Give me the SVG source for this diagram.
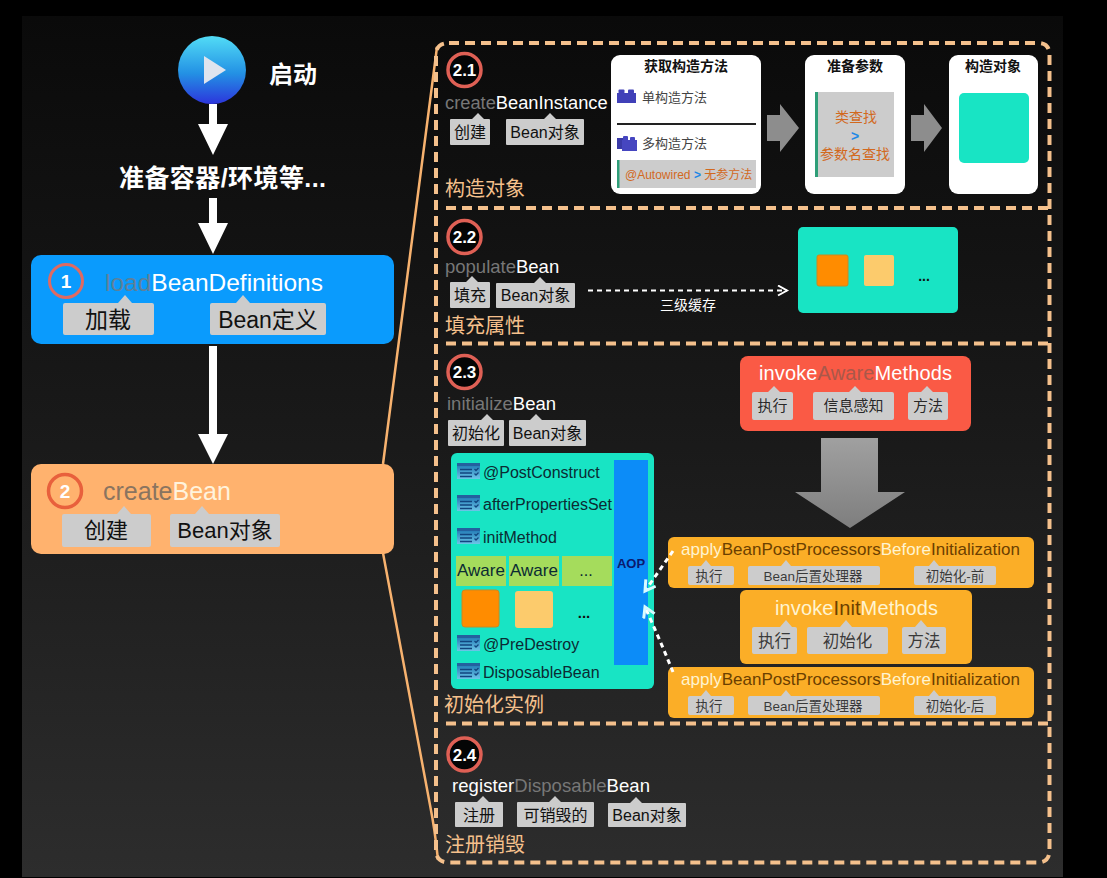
<svg xmlns="http://www.w3.org/2000/svg" width="1107" height="878" viewBox="0 0 1107 878">
<defs>
<linearGradient id="bg" x1="0" y1="0" x2="0" y2="1"><stop offset="0" stop-color="#0a0a0a"/><stop offset="0.5" stop-color="#1a1a1a"/><stop offset="1" stop-color="#2d2d2d"/></linearGradient>
<linearGradient id="play" x1="0" y1="0" x2="0" y2="1"><stop offset="0" stop-color="#52dcf6"/><stop offset="0.55" stop-color="#2391e4"/><stop offset="1" stop-color="#2c35dc"/></linearGradient>
<linearGradient id="grey" x1="0" y1="0" x2="0" y2="1"><stop offset="0" stop-color="#a0a0a0"/><stop offset="1" stop-color="#7e7e7e"/></linearGradient>
<linearGradient id="lst" x1="0" y1="0" x2="0" y2="1"><stop offset="0" stop-color="#2a6fb8"/><stop offset="1" stop-color="#7cc0ee"/></linearGradient>
<marker id="open" markerWidth="14" markerHeight="14" refX="10" refY="6" orient="auto" markerUnits="userSpaceOnUse"><path d="M1 1L10 6L1 11" fill="none" stroke="#fff" stroke-width="2"/></marker>
<marker id="open2" markerWidth="16" markerHeight="16" refX="11" refY="7" orient="auto" markerUnits="userSpaceOnUse"><path d="M1 1L11 7L1 13" fill="none" stroke="#d8fbff" stroke-width="3"/></marker>
<g id="blocks1"><rect x="0" y="4" width="19" height="10" fill="#4040b8"/><rect x="1.500" y="0.500" width="6" height="4" rx="1" fill="#4040b8"/><rect x="11" y="0.500" width="6" height="4" rx="1" fill="#4040b8"/></g>
<g id="blocks2"><rect x="0" y="3" width="11" height="11" fill="#3a3aa8"/><rect x="5" y="5" width="15" height="11" fill="#4646c0"/><rect x="6" y="1" width="5" height="5" rx="1" fill="#4646c0"/><rect x="13" y="2" width="5" height="4" rx="1" fill="#4646c0"/></g>
<g id="lsticon"><rect x="0" y="0" width="23" height="3" fill="#24609f"/><rect x="0" y="3" width="23" height="13" fill="url(#lst)" opacity="0.85"/><path d="M3 6.500H15M3 10H15M3 13.500H15" stroke="#12457f" stroke-width="1.500"/><path d="M17.500 6l1.500 1.500 2.500-2.500M17.500 10.500l1.500 1.500 2.500-2.500" fill="none" stroke="#12457f" stroke-width="1.300"/></g>
</defs>
<style>
text{font-family:"Liberation Sans","Noto Sans CJK SC",Arial,sans-serif}
.w{fill:#fff}
.arrow{fill:#fff}
.frame{fill:none;stroke:#f4c08c;stroke-width:4;stroke-dasharray:10 6}
.sec{font-size:20px;fill:#f5c08c}
.ring{stroke:#df6055;stroke-width:3.500;fill:#050505}
.num{font-size:17px;font-weight:bold;fill:#fff;text-anchor:middle}
.tag{fill:#cccccc}
.tt{fill:#111;text-anchor:middle}
.card{fill:#fff}
.ct{font-size:14px;font-weight:bold;fill:#111;text-anchor:middle}
.mid{text-anchor:middle}
.dim{fill:#777}
.item{font-size:16px;fill:#0b2b33}
.or{fill:#d2691e}
.bl{fill:#1e88e5}
.orange{fill:#fbae27}
.cream{fill:#fff4d0}
.brown{fill:#6b3f00}
.teal{fill:#18e4c4}
</style>
<rect width="1107" height="878" fill="#000"/>
<rect x="22" y="16" width="1041" height="861" fill="url(#bg)"/>

<g id="connectors">
<path d="M437 47L383 464M383 553L430 805Q435 830 438 860" fill="none" stroke="#f7b26f" stroke-width="2.500"/>
<path class="frame" d="M449 43H1038Q1049.500 43 1049.500 55V850Q1049.500 862.500 1038 862.500H449Q436 862.500 436 850V55Q436 43 449 43Z"/>
<path class="frame" d="M446 208H1049M446 343.500H1049M446 723.500H1049"/>
<path class="arrow" d="M209 104H217V124H228L213 155L198 124H209Z"/>
<path class="arrow" d="M209 198H217V223H228L213 254L198 223H209Z"/>
<path class="arrow" d="M209 346H217V434H228L213 464L198 434H209Z"/>
<path fill="#8d8d8d" d="M767 115H780V104L799 128L780 152V141H767Z"/>
<path fill="#8d8d8d" d="M911 115H924V104L942 128L924 152V141H911Z"/>
<path fill="url(#grey)" d="M821 438H878V492H905L850 528L795 492H821Z"/>
<path d="M588 290.500H787" fill="none" stroke="#fff" stroke-width="2" stroke-dasharray="5 4" marker-end="url(#open)"/>
<text x="688" y="310" font-size="14" class="w mid">三级缓存</text>
</g>

<g id="start"><circle cx="212" cy="70" r="34" fill="url(#play)"/><path d="M204 56L226 70L204 84Z" fill="#dfe4ee"/><text x="269" y="83" font-size="24" font-weight="bold" class="w">启动</text></g>
<g id="prepare"><text x="119" y="187" font-size="25" font-weight="bold" class="w" textLength="207">准备容器/环境等...</text></g>

<g id="load">
<rect x="31" y="255" width="363" height="89" rx="10" fill="#0a9bfd"/>
<circle cx="66" cy="281" r="16.500" fill="#0a9bfd" stroke="#df6a62" stroke-width="3"/>
<text x="66" y="288" font-size="19" class="w mid" font-weight="bold">1</text>
<text x="105" y="291" font-size="24.500" class="w"><tspan fill="#5f8098">load</tspan>BeanDefinitions</text>
<path class="tag" d="M65 303H118L125 295L132 303H152Q154 303 154 305V333Q154 335 152 335H65Q63 335 63 333V305Q63 303 65 303Z"/>
<text x="108" y="328" font-size="23" class="tt">加载</text>
<path class="tag" d="M212 303H236L243 295L250 303H324Q326 303 326 305V333Q326 335 324 335H212Q210 335 210 333V305Q210 303 212 303Z"/>
<text x="268" y="328" font-size="23" class="tt">Bean定义</text>
</g>

<g id="create">
<rect x="31" y="464" width="363" height="90" rx="10" fill="#ffb26e"/>
<circle cx="65" cy="491" r="16.500" fill="#ffb26e" stroke="#e8603c" stroke-width="3.500"/>
<text x="65" y="498" font-size="19" class="w mid" font-weight="bold">2</text>
<text x="103" y="500" font-size="25" fill="#fff3dc"><tspan fill="#8a7460">create</tspan>Bean</text>
<path class="tag" d="M64 514H117L124 506L131 514H149Q151 514 151 516V545Q151 547 149 547H64Q62 547 62 545V516Q62 514 64 514Z"/>
<text x="106" y="538" font-size="22" class="tt">创建</text>
<path class="tag" d="M172 514H195L202 506L209 514H278Q280 514 280 516V545Q280 547 278 547H172Q170 547 170 545V516Q170 514 172 514Z"/>
<text x="225" y="538" font-size="22" class="tt">Bean对象</text>
</g>

<g id="s21">
<circle class="ring" cx="464.500" cy="70" r="16.500"/><text class="num" x="464.500" y="76">2.1</text>
<text x="445" y="109" font-size="18.300" class="w"><tspan class="dim">create</tspan>BeanInstance</text>
<path class="tag" d="M451 119H472L478 113L484 119H489Q490 119 490 120V144Q490 145 489 145H451Q450 145 450 144V120Q450 119 451 119Z"/>
<text x="470" y="138" font-size="16" class="tt">创建</text>
<path class="tag" d="M507 119H544L550 113L556 119H583Q584 119 584 120V144Q584 145 583 145H507Q506 145 506 144V120Q506 119 507 119Z"/>
<text x="545" y="138" font-size="16" class="tt">Bean对象</text>
<text x="445" y="196" class="sec">构造对象</text>
</g>

<g id="card-method">
<rect class="card" x="611" y="55" width="150" height="139" rx="9"/>
<text class="ct" x="686" y="71">获取构造方法</text>
<use href="#blocks1" x="617" y="89"/>
<text x="642" y="102" font-size="13" fill="#444">单构造方法</text>
<rect x="617" y="123" width="139" height="2" fill="#222"/>
<use href="#blocks2" x="617" y="135"/>
<text x="642" y="148" font-size="13" fill="#444">多构造方法</text>
<rect x="617" y="160" width="139" height="28" fill="#ccc"/><rect x="617" y="160" width="2.500" height="28" fill="#2e9e78"/>
<text x="625" y="179" font-size="12" class="or">@Autowired <tspan class="bl" font-weight="bold">&gt;</tspan> 无参方法</text>
</g>
<g id="card-param">
<rect class="card" x="805" y="55" width="100" height="139" rx="9"/>
<text class="ct" x="855" y="71">准备参数</text>
<rect x="815" y="92" width="79" height="85" fill="#ccc"/><rect x="815" y="92" width="3" height="85" fill="#2e9e78"/>
<text x="856" y="122" font-size="14" class="or mid">类查找</text>
<text x="855" y="141" font-size="14" font-weight="bold" class="bl mid">&gt;</text>
<text x="855" y="159" font-size="14" class="or mid">参数名查找</text>
</g>
<g id="card-object">
<rect class="card" x="949" y="55" width="89" height="139" rx="9"/>
<text class="ct" x="993" y="71">构造对象</text>
<rect class="teal" x="959" y="93" width="70" height="70" rx="5"/>
</g>

<g id="s22">
<circle class="ring" cx="464.500" cy="237" r="16.500"/><text class="num" x="464.500" y="243">2.2</text>
<text x="445" y="273" font-size="18.500" class="w"><tspan class="dim">populate</tspan>Bean</text>
<path class="tag" d="M451 282H466L472 276L478 282H489Q490 282 490 283V307Q490 308 489 308H451Q450 308 450 307V283Q450 282 451 282Z"/>
<text x="470" y="301" font-size="16" class="tt">填充</text>
<path class="tag" d="M497 283H534L540 277L546 283H574Q575 283 575 284V307Q575 308 574 308H497Q496 308 496 307V284Q496 283 497 283Z"/>
<text x="535.500" y="301" font-size="16" class="tt">Bean对象</text>
<text x="445" y="333" class="sec">填充属性</text>
</g>
<g id="fields">
<rect class="teal" x="798" y="227" width="160" height="86" rx="5"/>
<rect x="817" y="255" width="31" height="31" rx="2" fill="#ff8c00" stroke="#c98a20"/>
<rect x="864" y="255" width="30" height="31" rx="2" fill="#fccb6c"/>
<text x="924" y="281" font-size="14" font-weight="bold" fill="#111" class="mid">...</text>
</g>

<g id="s23">
<circle class="ring" cx="464.500" cy="372" r="16.500"/><text class="num" x="464.500" y="378">2.3</text>
<text x="447" y="410" font-size="18.500" class="w"><tspan class="dim">initialize</tspan>Bean</text>
<path class="tag" d="M449 420H481L487 414L493 420H503Q504 420 504 421V445Q504 446 503 446H449Q448 446 448 445V421Q448 420 449 420Z"/>
<text x="476" y="439" font-size="16" class="tt">初始化</text>
<path class="tag" d="M510 420H530L536 414L542 420H585Q586 420 586 421V445Q586 446 585 446H510Q509 446 509 445V421Q509 420 510 420Z"/>
<text x="547.500" y="439" font-size="16" class="tt">Bean对象</text>
<text x="444" y="712" class="sec">初始化实例</text>
</g>

<g id="instance">
<rect class="teal" x="451" y="453" width="203" height="236" rx="6"/>
<use href="#lsticon" x="457" y="463"/><text class="item" x="483" y="478">@PostConstruct</text>
<use href="#lsticon" x="457" y="495"/><text class="item" x="483" y="510">afterPropertiesSet</text>
<use href="#lsticon" x="457" y="528"/><text class="item" x="483" y="543">initMethod</text>
<rect x="456" y="556" width="50" height="30" fill="#a5dc5c"/><text class="item mid" x="481" y="576" style="font-size:17px">Aware</text>
<rect x="509" y="556" width="50" height="30" fill="#a5dc5c"/><text class="item mid" x="534" y="576" style="font-size:17px">Aware</text>
<rect x="562" y="556" width="50" height="30" fill="#a5dc5c"/><text class="item mid" x="586" y="576">...</text>
<rect x="462" y="590" width="37" height="37" rx="3" fill="#ff8c00" stroke="#c98a20"/>
<rect x="515" y="591" width="38" height="37" rx="3" fill="#fccb6c"/>
<text x="584" y="618" font-size="15" font-weight="bold" fill="#111" class="mid">...</text>
<use href="#lsticon" x="457" y="635"/><text class="item" x="483" y="650">@PreDestroy</text>
<use href="#lsticon" x="457" y="663"/><text class="item" x="483" y="678">DisposableBean</text>
<rect x="614" y="460" width="34" height="205" fill="#0c8cf8"/>
<text x="631" y="568" font-size="13" font-weight="bold" fill="#0b1a6e" class="mid">AOP</text>
</g>

<g id="aware">
<rect x="740" y="356" width="231" height="75" rx="8" fill="#fa5a45"/>
<text x="759" y="380" font-size="20" class="w" textLength="193">invoke<tspan fill="#a9584a">Aware</tspan>Methods</text>
<path class="tag" d="M754 392H768L774 386L780 392H791Q793 392 793 394V418Q793 420 791 420H754Q752 420 752 418V394Q752 392 754 392Z"/>
<text x="772.500" y="411" font-size="15" class="tt" fill-opacity="0.9">执行</text>
<path class="tag" d="M815 392H849L855 386L861 392H892Q894 392 894 394V418Q894 420 892 420H815Q813 420 813 418V394Q813 392 815 392Z"/>
<text x="853.500" y="411" font-size="15" class="tt" fill-opacity="0.9">信息感知</text>
<path class="tag" d="M910 392H921L927 386L933 392H946Q948 392 948 394V418Q948 420 946 420H910Q908 420 908 418V394Q908 392 910 392Z"/>
<text x="928" y="411" font-size="15" class="tt" fill-opacity="0.9">方法</text>
</g>

<g id="before">
<rect class="orange" x="668" y="537" width="366" height="51" rx="6"/>
<text x="681" y="555" font-size="17" class="brown" textLength="339"><tspan class="cream">apply</tspan>BeanPostProcessors<tspan class="cream">Before</tspan>Initialization</text>
<path class="tag" d="M690 566H701L706 560L711 566H732Q734 566 734 568V583Q734 585 732 585H690Q688 585 688 583V568Q688 566 690 566Z"/>
<text x="709" y="581" font-size="13.500" class="tt" fill-opacity="0.8">执行</text>
<path class="tag" d="M750 566H781L786 560L791 566H878Q880 566 880 568V583Q880 585 878 585H750Q748 585 748 583V568Q748 566 750 566Z"/>
<text x="813" y="581" font-size="13.500" class="tt" fill-opacity="0.8">Bean后置处理器</text>
<path class="tag" d="M916 566H929L934 560L939 566H994Q996 566 996 568V583Q996 585 994 585H916Q914 585 914 583V568Q914 566 916 566Z"/>
<text x="955" y="581" font-size="13.500" class="tt" fill-opacity="0.8">初始化-前</text>
</g>

<g id="init">
<rect class="orange" x="740" y="590" width="232" height="74" rx="6"/>
<text x="775" y="615" font-size="20" class="cream" textLength="163">invoke<tspan class="brown">Init</tspan>Methods</text>
<path class="tag" d="M754 627H780L786 620L792 627H795Q797 627 797 629V652Q797 654 795 654H754Q752 654 752 652V629Q752 627 754 627Z"/>
<text x="774.500" y="647" font-size="16.500" class="tt" fill-opacity="0.8">执行</text>
<path class="tag" d="M809 627H840L846 620L852 627H886Q888 627 888 629V652Q888 654 886 654H809Q807 654 807 652V629Q807 627 809 627Z"/>
<text x="847.500" y="647" font-size="16.500" class="tt" fill-opacity="0.8">初始化</text>
<path class="tag" d="M904 627H915L921 620L927 627H944Q946 627 946 629V652Q946 654 944 654H904Q902 654 902 652V629Q902 627 904 627Z"/>
<text x="924" y="647" font-size="16.500" class="tt" fill-opacity="0.8">方法</text>
</g>

<g id="after">
<rect class="orange" x="668" y="667" width="366" height="51" rx="6"/>
<text x="681" y="685" font-size="17" class="brown" textLength="339"><tspan class="cream">apply</tspan>BeanPostProcessors<tspan class="cream">Before</tspan>Initialization</text>
<path class="tag" d="M690 696H701L706 690L711 696H732Q734 696 734 698V713Q734 715 732 715H690Q688 715 688 713V698Q688 696 690 696Z"/>
<text x="709" y="711" font-size="13.500" class="tt" fill-opacity="0.8">执行</text>
<path class="tag" d="M750 696H781L786 690L791 696H878Q880 696 880 698V713Q880 715 878 715H750Q748 715 748 713V698Q748 696 750 696Z"/>
<text x="813" y="711" font-size="13.500" class="tt" fill-opacity="0.8">Bean后置处理器</text>
<path class="tag" d="M916 696H929L934 690L939 696H994Q996 696 996 698V713Q996 715 994 715H916Q914 715 914 713V698Q914 696 916 696Z"/>
<text x="955" y="711" font-size="13.500" class="tt" fill-opacity="0.8">初始化-后</text>
</g>

<g id="aop-links">
<path d="M673 551L645 591" fill="none" stroke="#fff" stroke-width="3" stroke-dasharray="5 4" marker-end="url(#open2)"/>
<path d="M673 672Q660 640 645 607" fill="none" stroke="#fff" stroke-width="3" stroke-dasharray="5 4" marker-end="url(#open2)"/>
</g>

<g id="s24">
<circle class="ring" cx="464.500" cy="754.500" r="16.500"/><text class="num" x="464.500" y="760.500">2.4</text>
<text x="452" y="792" font-size="18.500" class="w" textLength="198"><tspan fill="#fff">register</tspan><tspan class="dim">Disposable</tspan>Bean</text>
<path class="tag" d="M456 802H477L483 796L489 802H502Q503 802 503 803V826Q503 827 502 827H456Q455 827 455 826V803Q455 802 456 802Z"/>
<text x="479" y="821" font-size="16" class="tt">注册</text>
<path class="tag" d="M518 802H549L555 796L561 802H593Q594 802 594 803V826Q594 827 593 827H518Q517 827 517 826V803Q517 802 518 802Z"/>
<text x="555.500" y="821" font-size="16" class="tt">可销毁的</text>
<path class="tag" d="M609 803H630L636 797L642 803H685Q686 803 686 804V826Q686 827 685 827H609Q608 827 608 826V804Q608 803 609 803Z"/>
<text x="647" y="821" font-size="16" class="tt">Bean对象</text>
<text x="445" y="852" class="sec">注册销毁</text>
</g>
</svg>
